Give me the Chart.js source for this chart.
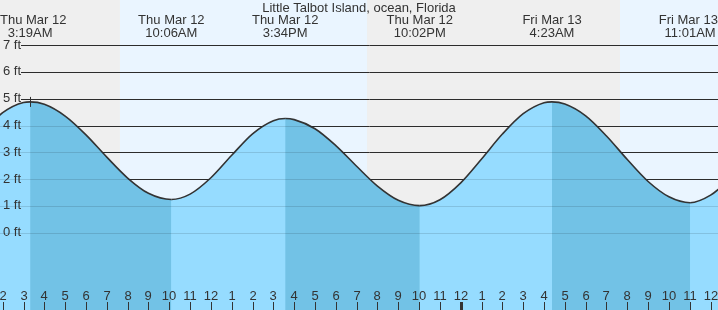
<!DOCTYPE html>
<html>
<head>
<meta charset="utf-8">
<script src="https://cdn.jsdelivr.net/npm/chart.js@4/dist/chart.umd.min.js"></script>
<style>
  html, body { margin: 0; padding: 0; background: #fff; }
  canvas { display: block; }
</style>
</head>
<body>
<canvas id="tide" width="718" height="310"></canvas>
<script>
// hours counted from Thu Mar 12 00:00
const tideHours = [1, 2, 3, 3.317, 4, 5, 6, 7, 8, 9, 10.1, 11, 12, 13, 14, 15, 15.567,
  16, 17, 18, 19, 20, 21, 22.033, 23, 24, 25, 26, 27, 28, 28.383,
  29, 30, 31, 32, 33, 34, 35.017, 36, 37];
const tideFeet = [3.72, 4.48, 4.86, 4.88, 4.79, 4.35, 3.65, 2.82, 2.04, 1.47, 1.24, 1.44, 2.05, 2.89, 3.69, 4.18, 4.26,
  4.22, 3.88, 3.25, 2.48, 1.74, 1.21, 1.01, 1.23, 1.86, 2.75, 3.68, 4.44, 4.85, 4.88,
  4.80, 4.36, 3.61, 2.73, 1.91, 1.34, 1.12, 1.40, 2.05];

const eventHours = [3.317, 10.1, 15.567, 22.033, 28.383, 35.017];
const eventKinds = ['H', 'L', 'H', 'L', 'H', 'L'];
const eventDays = ['Thu Mar 12', 'Thu Mar 12', 'Thu Mar 12', 'Thu Mar 12', 'Fri Mar 13', 'Fri Mar 13'];
const eventTimes = ['3:19AM', '10:06AM', '3:34PM', '10:02PM', '4:23AM', '11:01AM'];

const dayStarts = [7.63, 31.65];
const dayEnds = [19.5, 43.5];

const ftTicks = [0, 1, 2, 3, 4, 5, 6, 7];
const title = 'Little Talbot Island, ocean, Florida';

const FONT = '13px "Liberation Sans", Arial, sans-serif';
const TEXT = '#333';
const LIGHT = '#96dcff';
const DARK = '#72c2e6';

function isFalling(h) {
  let k = -1;
  for (let i = 0; i < eventHours.length; i++) {
    if (eventHours[i] <= h + 1e-6) k = i;
  }
  return k >= 0 && eventKinds[k] === 'H';
}

const tidePoints = tideHours.map((h, i) => ({ x: h, y: tideFeet[i] }));

const tideDecor = {
  id: 'tideDecor',
  beforeDraw(chart) {
    const { ctx, chartArea: a, scales: { x } } = chart;
    ctx.save();
    ctx.fillStyle = '#efefef';
    ctx.fillRect(a.left, a.top, a.right - a.left, a.bottom - a.top);
    ctx.fillStyle = '#eaf5ff';
    dayStarts.forEach((s, i) => {
      const x0 = x.getPixelForValue(s);
      const x1 = x.getPixelForValue(dayEnds[i]);
      ctx.fillRect(x0, a.top, x1 - x0, a.bottom - a.top);
    });
    ctx.restore();
  },
  beforeDatasetsDraw(chart) {
    const { ctx, chartArea: a, scales: { y } } = chart;
    ctx.save();
    ctx.strokeStyle = '#333';
    ctx.lineWidth = 1;
    ftTicks.forEach(v => {
      const py = Math.round(y.getPixelForValue(v)) + 0.5;
      ctx.beginPath();
      ctx.moveTo(21, py);
      ctx.lineTo(a.right, py);
      ctx.stroke();
    });
    ctx.restore();
  },
  afterDatasetsDraw(chart) {
    const { ctx, chartArea: a, scales: { x, y } } = chart;
    ctx.save();
    // grid seen through the water
    ctx.strokeStyle = 'rgba(0,0,0,0.12)';
    ctx.lineWidth = 1;
    ftTicks.forEach(v => {
      const py = Math.round(y.getPixelForValue(v)) + 0.5;
      ctx.beginPath();
      ctx.moveTo(v <= 4 ? a.left : 21, py);
      ctx.lineTo(a.right, py);
      ctx.stroke();
    });

    // marker at the first high
    const mx = Math.round(x.getPixelForValue(eventHours[0])) + 0.5;
    const my = y.getPixelForValue(tideFeet[3]);
    ctx.strokeStyle = '#333';
    ctx.beginPath();
    ctx.moveTo(mx, my - 5);
    ctx.lineTo(mx, my + 5);
    ctx.stroke();

    ctx.font = FONT;
    ctx.fillStyle = TEXT;

    // y labels
    ctx.textAlign = 'left';
    ctx.textBaseline = 'middle';
    ftTicks.forEach(v => {
      ctx.fillText(v + ' ft', 3, y.getPixelForValue(v));
    });

    // hour ticks and labels
    ctx.textAlign = 'center';
    ctx.textBaseline = 'alphabetic';
    for (let h = Math.ceil(x.min); h <= Math.floor(x.max); h++) {
      const px = Math.round(x.getPixelForValue(h));
      const hr = h % 12 === 0 ? 12 : h % 12;
      ctx.fillText(String(hr), px, 300);
      const w = h % 24 === 0 ? 3 : 1;
      ctx.fillRect(px - (w === 3 ? 1 : 0), 302, w, a.bottom - 302);
    }

    // title and tide events
    ctx.fillText(title, (a.left + a.right) / 2, 12);
    eventHours.forEach((h, i) => {
      const px = x.getPixelForValue(h);
      [eventDays[i], eventTimes[i]].forEach((t, j) => {
        const w = ctx.measureText(t).width;
        let cx = px;
        if (cx - w / 2 < a.left) cx = a.left + w / 2;
        if (cx + w / 2 > a.right) cx = a.right - w / 2;
        ctx.fillText(t, cx, j === 0 ? 24 : 37);
      });
    });
    ctx.restore();
  }
};

new Chart(document.getElementById('tide').getContext('2d'), {
  type: 'line',
  data: {
    datasets: [{
      data: tidePoints,
      borderColor: '#333',
      borderWidth: 1.6,
      pointRadius: 0,
      fill: 'start',
      backgroundColor: LIGHT,
      cubicInterpolationMode: 'monotone',
      order: 0,
      segment: {
        backgroundColor: c => (isFalling(c.p0.parsed.x) ? DARK : LIGHT)
      }
    }, {
      // plain water underneath, hides seams between fill segments
      data: tidePoints,
      borderWidth: 0,
      borderColor: 'rgba(0,0,0,0)',
      pointRadius: 0,
      fill: 'start',
      backgroundColor: LIGHT,
      cubicInterpolationMode: 'monotone',
      order: 1
    }]
  },
  options: {
    responsive: false,
    animation: false,
    layout: { padding: 0 },
    plugins: { legend: { display: false }, tooltip: { enabled: false } },
    scales: {
      x: { type: 'linear', display: false, min: 1.87, max: 36.356 },
      y: { display: false, min: -2.884, max: 8.683 }
    }
  },
  plugins: [tideDecor]
});
</script>
</body>
</html>
